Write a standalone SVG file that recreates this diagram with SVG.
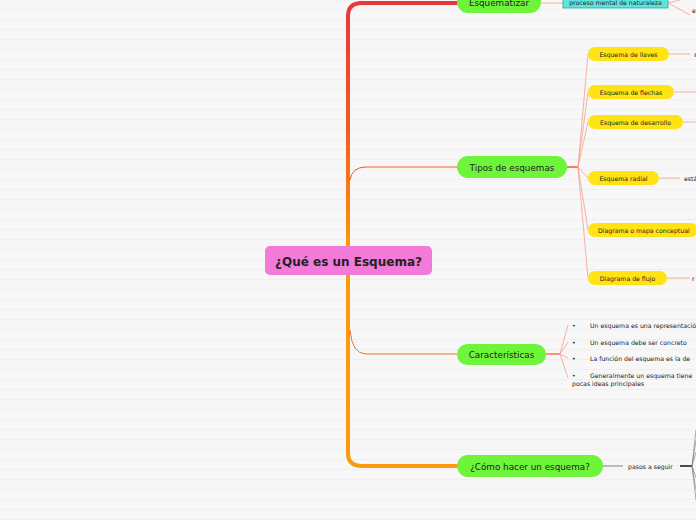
<svg xmlns="http://www.w3.org/2000/svg" width="696" height="520" viewBox="0 0 696 520">
<defs>
<pattern id="bg" width="696" height="10" patternUnits="userSpaceOnUse"><rect width="696" height="10" fill="#f7f7f7"/><line x1="0" y1="9.5" x2="696" y2="9.5" stroke="#efefef"/></pattern>
<linearGradient id="tr" x1="0" y1="0" x2="0" y2="1"><stop offset="0" stop-color="#e8373a"/><stop offset="0.5" stop-color="#f25a22"/><stop offset="1" stop-color="#fb9a0a"/></linearGradient>
</defs>
<style>
text{font-family:"DejaVu Sans",Verdana,sans-serif;fill:#222}
.g{fill:#6ef43a}
.y{fill:#ffe315}
.gt{font-size:8.8px}
.yt{font-size:6.2px}
.s{font-size:6.2px}
.c{fill:none;stroke:#f5a08c;stroke-width:0.8}
</style>
<rect width="696" height="520" fill="url(#bg)"/>
<g id="connectors">
<path d="M348 250 V16 Q348 3 362 3 H458" fill="none" stroke="url(#tr)" stroke-width="4"/>
<path d="M348 250 V453 Q348 466 362 466 H458" fill="none" stroke="#fb9a0a" stroke-width="4"/>
<path d="M350 180 Q352 167 366 167 H458" fill="none" stroke="#f25a22" stroke-width="1"/>
<path d="M350 330 Q352 354 366 354 H458" fill="none" stroke="#f2702a" stroke-width="1"/>
<path class="c" d="M540 3 H563"/>
<path class="c" d="M668 3 L680 0 M668 3 L690 15"/>
<path d="M566 167 H578" stroke="#f25a22" stroke-width="1.5"/>
<path class="c" d="M578 167 L588 54 M578 167 L588 92 M578 167 L588 122 M578 167 L588 178 M578 167 L588 230 M578 167 L588 278"/>
<path class="c" d="M669 54 H690 M674 92 H696 M683 122 H696 M659 178 H680 M666 278 H690"/>
<path d="M546 354 H560" stroke="#f25a22" stroke-width="1.2"/>
<path class="c" d="M560 354 L568 325 M560 354 L568 342 M560 354 L568 358 M560 354 L568 378"/>
<path d="M603 466 H623" stroke="#666" stroke-width="0.8"/>
<path d="M680 466 H692" stroke="#111" stroke-width="1.5"/>
<path d="M692 466 L696 430 M692 466 L696 440 M692 466 L696 452 M692 466 L696 478 M692 466 L696 490 M692 466 L696 500" stroke="#777" stroke-width="0.6" fill="none"/>
</g>
<g id="central"><rect x="265" y="246" width="167" height="29" rx="5" fill="#f47ad9"/><text x="348.5" y="265.5" text-anchor="middle" font-size="12" font-weight="bold">¿Qué es un Esquema?</text></g>
<g id="esquematizar"><rect x="457" y="-10" width="84" height="23" rx="11" class="g"/><text x="499" y="6" text-anchor="middle" class="gt">Esquematizar</text></g>
<g id="proceso"><rect x="563" y="-6" width="105" height="14" fill="#5ce5d8" stroke="#2aa" stroke-width="0.8"/><text x="615.5" y="5" text-anchor="middle" class="s">proceso mental de naturaleza</text><text x="692" y="13" class="s">e</text></g>
<g id="tipos"><rect x="457" y="156" width="110" height="22" rx="11" class="g"/><text x="512" y="170.5" text-anchor="middle" class="gt">Tipos de esquemas</text></g>
<g id="llaves"><rect x="588" y="47" width="81" height="14" rx="7" class="y"/><text x="628.5" y="56.5" text-anchor="middle" class="yt">Esquema de llaves</text><text x="694" y="56.5" class="s">s</text></g>
<g id="flechas"><rect x="588" y="85" width="86" height="14" rx="7" class="y"/><text x="631" y="94.5" text-anchor="middle" class="yt">Esquema de flechas</text></g>
<g id="desarrollo"><rect x="588" y="115" width="95" height="14" rx="7" class="y"/><text x="635.5" y="124.5" text-anchor="middle" class="yt">Esquema de desarrollo</text></g>
<g id="radial"><rect x="588" y="171" width="71" height="14" rx="7" class="y"/><text x="623.5" y="180.5" text-anchor="middle" class="yt">Esquema radial</text><text x="684" y="180.5" class="s">está</text></g>
<g id="diagrama"><rect x="588" y="223" width="110" height="14" rx="7" class="y"/><text x="598" y="232.5" class="yt">Diagrama o mapa conceptual</text></g>
<g id="flujo"><rect x="588" y="271" width="79" height="14" rx="7" class="y"/><text x="627.5" y="280.5" text-anchor="middle" class="yt">Diagrama de flujo</text><text x="692" y="280.5" class="s">r</text></g>
<g id="caracteristicas"><rect x="457" y="344" width="89" height="21" rx="10.5" class="g"/><text x="501.5" y="358" text-anchor="middle" class="gt">Características</text></g>
<g id="items">
<text x="572" y="328" class="s">•</text><text x="590" y="328" class="s">Un esquema es una representación</text>
<text x="572" y="345" class="s">•</text><text x="590" y="345" class="s">Un esquema debe ser concreto</text>
<text x="572" y="361" class="s">•</text><text x="590" y="361" class="s">La función del esquema es la de</text>
<text x="572" y="378" class="s">•</text><text x="590" y="378" class="s">Generalmente un esquema tiene</text>
<text x="572" y="386" class="s">pocas ideas principales</text>
</g>
<g id="como"><rect x="457" y="455" width="146" height="22" rx="11" class="g"/><text x="530" y="469.5" text-anchor="middle" class="gt">¿Cómo hacer un esquema?</text></g>
<g id="pasos"><text x="628" y="469" class="s">pasos a seguir</text></g>
</svg>
